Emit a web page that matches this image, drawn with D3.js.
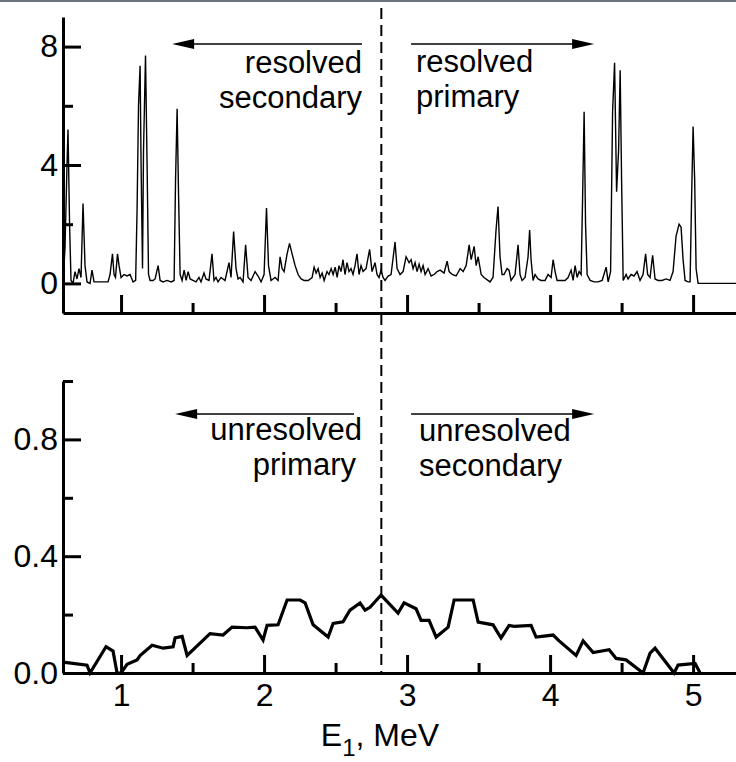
<!DOCTYPE html>
<html>
<head>
<meta charset="utf-8">
<script src="https://cdn.jsdelivr.net/npm/d3@7"></script>
<style>
  html, body { margin: 0; padding: 0; background: #fff; }
  svg { display: block; }
</style>
</head>
<body>
<svg id="chart" width="736" height="762"></svg>
<script>
// ---- Data -------------------------------------------------------------
// Upper panel: resolved coincidence spectrum (energy in MeV, counts)
const topEnergy = [
  0.594, 0.608, 0.622, 0.629, 0.640, 0.650, 0.664, 0.678, 0.692, 0.706,
  0.720, 0.734, 0.748, 0.762, 0.783, 0.797, 0.811, 0.839, 0.874, 0.909,
  0.923, 0.940, 0.951, 0.961, 0.975, 0.986, 1.000, 1.021, 1.042, 1.063,
  1.084, 1.102, 1.112, 1.122, 1.133, 1.140, 1.150, 1.157, 1.171, 1.182,
  1.192, 1.203, 1.224, 1.238, 1.259, 1.273, 1.294, 1.322, 1.350, 1.371,
  1.381, 1.392, 1.402, 1.413, 1.427, 1.441, 1.455, 1.469, 1.483, 1.503,
  1.524, 1.545, 1.559, 1.580, 1.594, 1.615, 1.636, 1.650, 1.664, 1.678,
  1.699, 1.727, 1.755, 1.769, 1.787, 1.804, 1.818, 1.832, 1.853, 1.871,
  1.888, 1.909, 1.937, 1.958, 1.979, 2.000, 2.017, 2.031, 2.049, 2.077,
  2.098, 2.112, 2.126, 2.140, 2.161, 2.178, 2.196, 2.217, 2.238, 2.259,
  2.280, 2.308, 2.336, 2.350, 2.364, 2.378, 2.392, 2.406, 2.420, 2.440,
  2.454, 2.469, 2.483, 2.497, 2.511, 2.524, 2.538, 2.552, 2.566, 2.580,
  2.594, 2.608, 2.622, 2.636, 2.650, 2.664, 2.678, 2.692, 2.713, 2.738,
  2.755, 2.776, 2.790, 2.804, 2.818, 2.832, 2.846, 2.867, 2.888, 2.916,
  2.930, 2.951, 2.972, 2.993, 3.014, 3.028, 3.042, 3.056, 3.070, 3.084,
  3.098, 3.112, 3.126, 3.147, 3.168, 3.189, 3.210, 3.231, 3.259, 3.280,
  3.294, 3.315, 3.343, 3.371, 3.392, 3.413, 3.434, 3.448, 3.469, 3.483,
  3.497, 3.518, 3.538, 3.580, 3.601, 3.622, 3.636, 3.650, 3.664, 3.678,
  3.699, 3.713, 3.727, 3.755, 3.776, 3.790, 3.804, 3.825, 3.846, 3.857,
  3.867, 3.881, 3.895, 3.916, 3.937, 3.965, 3.986, 4.007, 4.021, 4.035,
  4.049, 4.077, 4.105, 4.126, 4.147, 4.161, 4.175, 4.189, 4.203, 4.217,
  4.227, 4.238, 4.248, 4.259, 4.280, 4.308, 4.336, 4.364, 4.392, 4.406,
  4.423, 4.437, 4.451, 4.465, 4.479, 4.490, 4.500, 4.511, 4.532, 4.545,
  4.566, 4.587, 4.608, 4.629, 4.650, 4.668, 4.682, 4.699, 4.717, 4.734,
  4.755, 4.783, 4.811, 4.839, 4.860, 4.881, 4.902, 4.916, 4.930, 4.944,
  4.965, 4.979, 4.990, 5.000, 5.011, 5.021, 5.035, 5.300
];
const topCounts = [
  0.00, 1.20, 4.00, 5.20, 2.00, 0.10, 0.00, 0.40, 0.15, 0.50,
  0.20, 2.70, 0.60, 0.05, 0.00, 0.45, 0.05, 0.05, 0.05, 0.05,
  0.30, 1.00, 0.30, 0.20, 1.00, 0.60, 0.20, 0.30, 0.25, 0.30,
  0.05, 0.10, 2.50, 6.00, 7.35, 4.00, 0.50, 4.50, 7.70, 4.00,
  0.30, 0.10, 0.10, 0.15, 0.60, 0.10, 0.05, 0.10, 0.05, 0.10,
  3.50, 5.90, 3.00, 0.30, 0.10, 0.45, 0.10, 0.40, 0.15, 0.10,
  0.05, 0.20, 0.05, 0.35, 0.15, 0.10, 1.00, 0.10, 0.20, 0.05,
  0.20, 0.10, 0.70, 0.20, 1.75, 0.50, 0.15, 0.20, 0.05, 1.30,
  0.20, 0.10, 0.40, 0.25, 0.05, 0.30, 2.55, 0.60, 0.10, 0.20,
  0.10, 0.90, 0.50, 0.40, 1.00, 1.35, 1.00, 0.60, 0.30, 0.15,
  0.10, 0.10, 0.20, 0.55, 0.35, 0.50, 0.20, 0.35, 0.10, 0.40,
  0.30, 0.50, 0.30, 0.55, 0.20, 0.60, 0.40, 0.80, 0.30, 0.70,
  0.40, 0.50, 0.30, 0.60, 1.00, 0.30, 0.60, 0.40, 0.50, 1.15,
  0.40, 0.70, 0.30, 0.20, 0.45, 0.20, 0.10, 0.25, 0.30, 1.40,
  0.50, 0.30, 0.40, 0.90, 0.70, 0.80, 0.50, 0.70, 0.40, 0.65,
  0.40, 0.60, 0.30, 0.50, 0.25, 0.30, 0.40, 0.45, 0.35, 0.75,
  0.40, 0.30, 0.25, 0.50, 0.40, 0.60, 1.30, 0.80, 1.25, 0.60,
  0.90, 0.30, 0.20, 0.05, 0.20, 1.80, 2.60, 0.90, 0.30, 0.30,
  0.50, 0.45, 0.10, 0.30, 1.30, 0.30, 0.10, 0.20, 0.90, 1.80,
  0.80, 0.10, 0.30, 0.15, 0.10, 0.10, 0.30, 0.20, 0.80, 0.40,
  0.10, 0.10, 0.10, 0.20, 0.45, 0.10, 0.60, 0.20, 0.40, 0.30,
  2.80, 5.80, 2.00, 0.30, 0.10, 0.05, 0.05, 0.10, 0.55, 0.05,
  0.40, 5.80, 7.45, 3.10, 4.50, 7.20, 3.50, 0.10, 0.30, 0.15,
  0.30, 0.25, 0.40, 0.10, 0.30, 1.00, 0.30, 0.20, 0.95, 0.15,
  0.10, 0.10, 0.15, 0.10, 0.40, 1.60, 2.00, 1.90, 0.80, 0.10,
  0.05, 0.05, 3.00, 5.30, 3.50, 0.50, 0.00, 0.00
];

// Lower panel: unresolved coincidence spectrum (energy in MeV, value)
const bottomEnergy = [
  0.594, 0.762, 0.783, 0.895, 0.944, 0.972, 1.000, 1.042, 1.112, 1.133,
  1.217, 1.294, 1.364, 1.378, 1.427, 1.462, 1.622, 1.713, 1.776, 1.881,
  1.937, 1.993, 2.021, 2.098, 2.161, 2.252, 2.287, 2.343, 2.448, 2.483,
  2.552, 2.601, 2.671, 2.706, 2.741, 2.818, 2.937, 2.979, 3.063, 3.098,
  3.154, 3.203, 3.287, 3.329, 3.392, 3.462, 3.497, 3.601, 3.657, 3.713,
  3.748, 3.867, 3.902, 4.021, 4.063, 4.182, 4.231, 4.301, 4.413, 4.462,
  4.531, 4.650, 4.699, 4.734, 4.867, 4.895, 5.014, 5.049
];
const bottomValues = [
  0.037, 0.027, 0.000, 0.090, 0.075, 0.000, 0.000, 0.030, 0.045, 0.060,
  0.095, 0.085, 0.090, 0.120, 0.125, 0.060, 0.135, 0.130, 0.157, 0.155,
  0.157, 0.113, 0.163, 0.165, 0.250, 0.250, 0.240, 0.165, 0.123, 0.170,
  0.175, 0.215, 0.240, 0.215, 0.225, 0.267, 0.205, 0.240, 0.220, 0.180,
  0.180, 0.123, 0.157, 0.250, 0.250, 0.250, 0.174, 0.165, 0.120, 0.163,
  0.160, 0.163, 0.123, 0.130, 0.110, 0.060, 0.110, 0.070, 0.080, 0.050,
  0.045, 0.000, 0.068, 0.085, 0.000, 0.027, 0.033, 0.000
];

// Axis ticks
const xTickValues = [1, 1.5, 2, 2.5, 3, 3.5, 4, 4.5, 5];
const xTickLabels = [1, 2, 3, 4, 5];
const topYTickValues = [0, 2, 4, 6, 8];
const topYTickLabels = [0, 4, 8];
const bottomYTickValues = [0, 0.2, 0.4, 0.6, 0.8, 1.0];
const bottomYTickLabels = [0, 0.4, 0.8];

// Boundary between primary and secondary regions (MeV)
const splitEnergy = 2.82;

// ---- Layout -----------------------------------------------------------
const FONT = "'Liberation Sans', Arial, Helvetica, sans-serif";
const svg = d3.select("#chart");
const left = 63, right = 736;
const topPanel = { top: 17, bottom: 313 };
const bottomPanel = { top: 381, bottom: 673 };
const majorTick = 18, minorTick = 10;

// thin frame strip along the top edge
svg.append("rect").attr("x", 0).attr("y", 0).attr("width", 736).attr("height", 2)
  .attr("fill", "#6b7280");

const x = d3.scaleLinear().domain([0.594, 5.30]).range([left, right]);
const yTop = d3.scaleLinear().domain([-1, 9]).range([topPanel.bottom, topPanel.top]);
const yBot = d3.scaleLinear().domain([0, 1]).range([bottomPanel.bottom, bottomPanel.top]);

function styleAxis(g) {
  g.attr("font-family", FONT).attr("font-size", 32);
  g.select(".domain").attr("stroke", "#000").attr("stroke-width", 3);
  g.selectAll(".tick line").attr("stroke", "#000").attr("stroke-width", 3);
  g.selectAll(".tick text").attr("fill", "#000");
}

function drawXAxis(yPos, withLabels) {
  const ax = d3.axisBottom(x)
    .tickValues(xTickValues)
    .tickSizeInner(-majorTick)
    .tickSizeOuter(0)
    .tickPadding(10)
    .tickFormat(d => (withLabels && xTickLabels.includes(d)) ? d3.format("d")(d) : "");
  const g = svg.append("g").attr("transform", `translate(0,${yPos})`).call(ax);
  styleAxis(g);
  g.selectAll(".tick line").attr("y2", d => xTickLabels.includes(d) ? -majorTick : -minorTick);
  return g;
}

function drawYAxis(scale, values, labels, fmt) {
  const ax = d3.axisLeft(scale)
    .tickValues(values)
    .tickSizeInner(-majorTick)
    .tickSizeOuter(0)
    .tickPadding(5)
    .tickFormat(d => labels.includes(d) ? fmt(d) : "");
  const g = svg.append("g").attr("transform", `translate(${left},0)`).call(ax);
  styleAxis(g);
  g.selectAll(".tick line").attr("x2", d => labels.includes(d) ? majorTick : minorTick);
  return g;
}

// ---- Upper panel ------------------------------------------------------
const topLine = d3.line()
  .x((d, i) => x(topEnergy[i]))
  .y(d => yTop(d));
svg.append("path")
  .datum(topCounts)
  .attr("fill", "none")
  .attr("stroke", "#000")
  .attr("stroke-width", 1.4)
  .attr("stroke-linejoin", "miter")
  .attr("d", topLine);

drawYAxis(yTop, topYTickValues, topYTickLabels, d3.format("d"));
drawXAxis(topPanel.bottom, false);

// ---- Lower panel ------------------------------------------------------
const botLine = d3.line()
  .x((d, i) => x(bottomEnergy[i]))
  .y(d => yBot(d));
svg.append("path")
  .datum(bottomValues)
  .attr("fill", "none")
  .attr("stroke", "#000")
  .attr("stroke-width", 3.2)
  .attr("stroke-linejoin", "miter")
  .attr("d", botLine);

drawYAxis(yBot, bottomYTickValues, bottomYTickLabels, d3.format(".1f"));
drawXAxis(bottomPanel.bottom, true);

// x-axis title with subscript
const title = svg.append("text")
  .attr("x", 380).attr("y", 746)
  .attr("text-anchor", "middle")
  .attr("font-family", FONT).attr("font-size", 32).attr("fill", "#000");
title.append("tspan").text("E");
title.append("tspan").attr("font-size", 24).attr("dy", 10).text("1");
title.append("tspan").attr("dy", -10).text(", MeV");

// ---- Region divider ---------------------------------------------------
svg.append("line")
  .attr("x1", x(splitEnergy)).attr("x2", x(splitEnergy))
  .attr("y1", 8).attr("y2", bottomPanel.bottom)
  .attr("stroke", "#000").attr("stroke-width", 2)
  .attr("stroke-dasharray", "11,6");

// ---- Arrow annotations (two-line captions under each arrow) -----------
const notes = [
  { from: 2.685, to: 1.357, yPx: 44,  lines: ["resolved", "secondary"],   anchor: "end",   tx: [362, 362], ty: 73 },
  { from: 3.028, to: 4.308, yPx: 44,  lines: ["resolved", "primary"],     anchor: "start", tx: [416, 416], ty: 72 },
  { from: 2.629, to: 1.378, yPx: 414, lines: ["unresolved", "primary"],   anchor: "end",   tx: [362, 356], ty: 440 },
  { from: 3.028, to: 4.308, yPx: 414, lines: ["unresolved", "secondary"], anchor: "start", tx: [419, 419], ty: 441 }
];
const headLen = 22, headHalf = 5, lineGap = 35, noteSize = 31;
notes.forEach(n => {
  const x0 = x(n.from), x1 = x(n.to), dir = Math.sign(x1 - x0);
  svg.append("line")
    .attr("x1", x0).attr("x2", x1 - dir * headLen * 0.8)
    .attr("y1", n.yPx).attr("y2", n.yPx)
    .attr("stroke", "#000").attr("stroke-width", 1.6);
  svg.append("path")
    .attr("d", `M${x1},${n.yPx} L${x1 - dir * headLen},${n.yPx - headHalf} L${x1 - dir * headLen},${n.yPx + headHalf} Z`)
    .attr("fill", "#000");
  const label = svg.append("text")
    .attr("y", n.ty)
    .attr("text-anchor", n.anchor)
    .attr("font-family", FONT).attr("font-size", noteSize).attr("fill", "#000");
  n.lines.forEach((t, i) => {
    label.append("tspan")
      .attr("x", n.tx[i])
      .attr("dy", i === 0 ? 0 : lineGap)
      .text(t);
  });
});
</script>
</body>
</html>
